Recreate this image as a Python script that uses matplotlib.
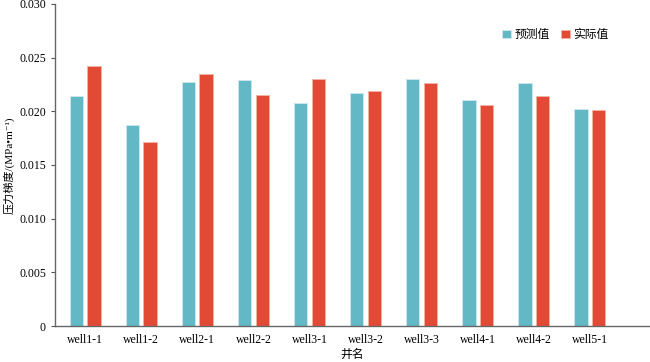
import numpy as np
import matplotlib
matplotlib.use("Agg")
import matplotlib.pyplot as plt

plt.rcParams['font.family'] = ['Liberation Serif', 'Noto Sans CJK SC', 'DejaVu Sans']

wells = ["well1-1", "well1-2", "well2-1", "well2-2", "well3-1",
         "well3-2", "well3-3", "well4-1", "well4-2", "well5-1"]
pred = [0.0214, 0.0187, 0.0227, 0.0229, 0.0208, 0.0217, 0.0230, 0.0210, 0.0226, 0.0202]
actual = [0.0242, 0.0171, 0.0235, 0.0215, 0.0230, 0.0219, 0.0226, 0.0206, 0.0214, 0.0201]

x = np.arange(len(wells))
w = 0.235; off = 0.155

fig = plt.figure(figsize=(6.5, 3.62), dpi=100)
ax = fig.add_axes([0.0846, 0.0994, 0.915, 0.890])
ax.bar(x - off, pred, w, color="#62B8C4", edgecolor="#CDE9EE", lw=0.6, label="预测值")
ax.bar(x + off, actual, w, color="#E24A36", edgecolor="#F3B3A8", lw=0.6, label="实际值")

ax.set_xlim(-0.54, 10.07); ax.set_ylim(0, 0.030)
ax.set_yticks([0, 0.005, 0.010, 0.015, 0.020, 0.025, 0.030])
ax.set_yticklabels(["0", "0.005", "0.010", "0.015", "0.020", "0.025", "0.030"])
ax.set_xticks(x); ax.set_xticklabels(wells)
ax.tick_params(axis="x", length=0, labelsize=8.5, pad=6)
ax.tick_params(axis="y", length=3, labelsize=8.5, color="#555555")
for s in ("top", "right"):
    ax.spines[s].set_visible(False)
for s in ("left", "bottom"):
    ax.spines[s].set_color("#666666"); ax.spines[s].set_linewidth(1.0)
ax.set_xlabel("井名", fontsize=8.5, labelpad=2)
ax.set_ylabel("压力梯度/(MPa•m⁻¹)", fontsize=8, labelpad=3)
ax.legend(loc="upper right", bbox_to_anchor=(0.948, 0.955), frameon=False, fontsize=8.5,
          ncol=2, handlelength=0.75, handleheight=0.75, handletextpad=0.25, columnspacing=1.0)
fig.savefig("out.png", dpi=100)
